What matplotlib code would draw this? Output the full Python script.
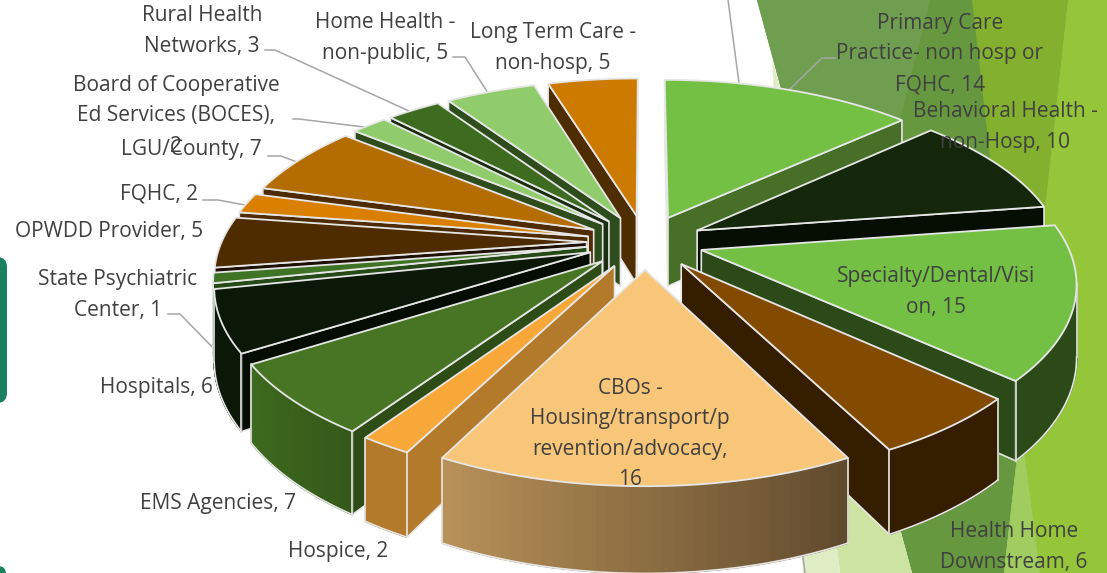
import numpy as np
import matplotlib
matplotlib.use("Agg")
import matplotlib.pyplot as plt
from matplotlib.patches import Polygon, FancyBboxPatch
from matplotlib.colors import to_rgb

values = [14, 10, 15, 6, 16, 2, 7, 6, 1, 5, 2, 7, 2, 3, 5, 5]
labels = ["Primary Care\nPractice- non hosp or\nFQHC, ", "Behavioral Health -\nnon-Hosp, ",
          "Specialty/Dental/Visi\non, ", "Health Home\nDownstream, ",
          "CBOs -\nHousing/transport/p\nrevention/advocacy,\n", "Hospice, ", "EMS Agencies, ",
          "Hospitals, ", "State Psychiatric\nCenter, ", "OPWDD Provider, ", "FQHC, ",
          "LGU/County, ", "Board of Cooperative\nEd Services (BOCES),\n", "Rural Health\nNetworks, ",
          "Home Health -\nnon-public, ", "Long Term Care -\nnon-hosp, "]
label_x = [940, 1005, 936, 1014, 630, 338, 218, 156, 118, 109, 159, 191, 176, 202, 385, 553]
label_y = [54, 127, 292, 547, 434, 552, 503, 387, 295, 231, 194, 150, 116, 31, 38, 48]

top_colors = ["#74C045", "#14270B", "#74C045", "#824B00", "#F8C678", "#F8A838", "#477524", "#0B1807",
              "#3F7326", "#4E2C00", "#D98000", "#B36D00", "#90CC6B", "#3D6B1F", "#90CC6B", "#CC7A00"]
side_colors = ["#476F28", "#060E03", "#2C4A18", "#351D00", "#B78B4A", "#B27A2A", "#2D4C16", "#050C02",
               "#254A16", "#1E1005", "#4E2C00", "#4E2C00", "#2F4D1C", "#1A2D0E", "#2F4D1C", "#4E2E00"]
# outer wall colour at the start and end of each slice
outer_start = ["#476F28", "#060E03", "#2C4A18", "#351D00", "#604A2D", "#B27A2A", "#35591A", "#0B1807",
               "#254A16", "#1E1005", "#4E2C00", "#4E2C00", "#2F4D1C", "#1A2D0E", "#2F4D1C", "#4E2E00"]
outer_end = ["#476F28", "#060E03", "#2C4A18", "#351D00", "#B89158", "#B27A2A", "#3D6A1E", "#0B1807",
             "#254A16", "#1E1005", "#4E2C00", "#4E2C00", "#2F4D1C", "#1A2D0E", "#2F4D1C", "#4E2E00"]

leaders = [[(265, 50), (275, 50), (409, 111)], [(293, 119), (299, 119), (364, 127)],
           [(268, 156), (281, 156), (297, 162)], [(203, 200), (218, 200), (245, 205)],
           [(453, 57), (465, 57), (488, 93)], [(168, 314), (180, 314), (220, 355)],
           [(835, 58), (822, 58), (789, 90)], [(728, 0), (739, 83)], [(803, 557), (805, 573)]]

cx, cy = 645, 242
rx, ry = 365, 169
persp = 0.17
explode = 0.16
depth = 70
edge = "#E6E6E6"


def project(u, v):
    s = 1 / (1 + persp * v)
    return cx + rx * u * s, cy - ry * v * s, depth * s


def mix(c1, c2, f):
    c1, c2 = np.array(to_rgb(c1)), np.array(to_rgb(c2))
    return tuple(c1 + (c2 - c1) * f)


def wall(ax, p, q, color, outline=True):
    x1, y1, d1 = p
    x2, y2, d2 = q
    pts = [(x1, y1), (x2, y2), (x2, y2 + d2), (x1, y1 + d1)]
    ax.add_patch(Polygon(pts, closed=True, fc=color, ec=edge if outline else color,
                         lw=1.2, zorder=3))


fig = plt.figure(figsize=(11.07, 5.73), dpi=100)
ax = fig.add_axes([0, 0, 1, 1])
ax.set_xlim(0, 1107)
ax.set_ylim(573, 0)
ax.axis("off")

# slide background
ax.add_patch(Polygon([(1068, 0), (1107, 0), (1107, 573), (1004, 573)], fc="#95C63A", ec="none", zorder=1))
ax.add_patch(Polygon([(757, 0), (1068, 0), (1004, 573), (912, 573)], fc="#66983F", ec="none", zorder=1))
ax.add_patch(Polygon([(757, 0), (930, 0), (847, 332)], fc="#6F9E50", ec="none", zorder=1))
ax.add_patch(Polygon([(972, 0), (1068, 0), (1021, 427)], fc="#84B030", ec="none", zorder=1))
ax.add_patch(Polygon([(1021, 427), (1004, 573), (1040, 573)], fc="#A0CC60", ec="none", zorder=1))
ax.add_patch(Polygon([(780, 88), (912, 573), (840, 573)], fc="#CDE3A2", ec="none", zorder=1))
ax.add_patch(Polygon([(772, 60), (803, 573), (840, 573), (780, 88)], fc="#DFECC4", ec="none", zorder=1))
ax.add_patch(FancyBboxPatch((-20, 267), 17, 126, boxstyle="round,pad=10", fc="#198060", ec="none", zorder=1))
ax.add_patch(FancyBboxPatch((-20, 574), 18, 20, boxstyle="round,pad=8", fc="#198060", ec="none", zorder=1))

for line in leaders:
    xs, ys = zip(*line)
    ax.plot(xs, ys, color="#A6A6A6", lw=1.1, zorder=2)

edges = np.cumsum([0] + values) / sum(values) * 2 * np.pi
mids = (edges[:-1] + edges[1:]) / 2

# back slices first
for i in np.argsort(-np.cos(mids)):
    t = np.linspace(edges[i], edges[i + 1], 40)
    ou, ov = explode * np.sin(mids[i]), explode * np.cos(mids[i])
    apex = project(ou, ov)
    arc = [project(ou + np.sin(a), ov + np.cos(a)) for a in t]

    # only walls under edges running leftwards face the viewer
    if arc[0][0] < apex[0]:
        wall(ax, apex, arc[0], side_colors[i])
    if apex[0] < arc[-1][0]:
        wall(ax, arc[-1], apex, side_colors[i])
    front = []
    for j in range(len(arc) - 1):
        if arc[j + 1][0] < arc[j][0]:
            wall(ax, arc[j], arc[j + 1], mix(outer_start[i], outer_end[i], j / (len(arc) - 2)), outline=False)
            front.append(j)
    if front:
        lo = [arc[j] for j in front] + [arc[front[-1] + 1]]
        xs = [p[0] for p in lo]
        ys = [p[1] + p[2] for p in lo]
        ax.plot(xs, ys, color=edge, lw=1.2, zorder=3)
        for p in (lo[0], lo[-1]):
            ax.plot([p[0], p[0]], [p[1], p[1] + p[2]], color=edge, lw=1.2, zorder=3)

    pts = [apex[:2]] + [p[:2] for p in arc]
    ax.add_patch(Polygon(pts, closed=True, fc=top_colors[i], ec=edge, lw=1.3, zorder=3))

for i in range(len(values)):
    ax.text(label_x[i], label_y[i], labels[i] + str(values[i]), ha="center", va="center",
            family="Open Sans", fontsize=15, color="#404040", linespacing=1.6, zorder=5)

fig.savefig("out.png", dpi=100)
